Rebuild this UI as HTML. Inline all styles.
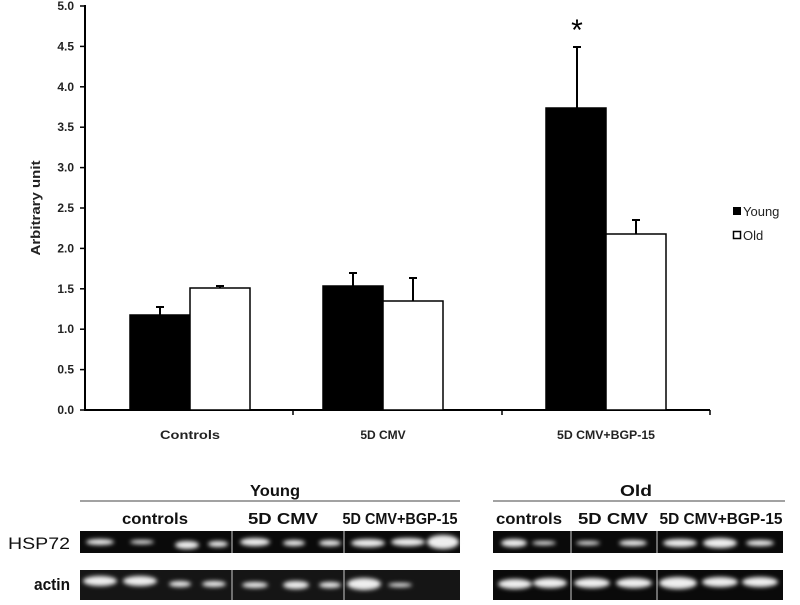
<!DOCTYPE html>
<html><head><style>
body{margin:0;background:#fff;width:800px;height:600px;overflow:hidden;font-family:"Liberation Sans",Arial,sans-serif}
</style></head><body>
<svg width="800" height="600" xmlns="http://www.w3.org/2000/svg" font-family="Liberation Sans, Arial, sans-serif">
<defs>
<filter id="b" x="-20%" y="-50%" width="140%" height="200%"><feGaussianBlur stdDeviation="2"/></filter>
</defs>
<g stroke="#000" stroke-width="2" fill="none">
<line x1="85" y1="5" x2="85" y2="411"/>
<line x1="84" y1="410" x2="710" y2="410"/>
</g>
<g stroke="#000" stroke-width="1.5">
<line x1="80" y1="6" x2="85" y2="6"/><line x1="80" y1="46.4" x2="85" y2="46.4"/><line x1="80" y1="86.8" x2="85" y2="86.8"/><line x1="80" y1="127.2" x2="85" y2="127.2"/><line x1="80" y1="167.6" x2="85" y2="167.6"/><line x1="80" y1="208" x2="85" y2="208"/><line x1="80" y1="248.4" x2="85" y2="248.4"/><line x1="80" y1="288.8" x2="85" y2="288.8"/><line x1="80" y1="329.2" x2="85" y2="329.2"/><line x1="80" y1="369.6" x2="85" y2="369.6"/><line x1="80" y1="410" x2="85" y2="410"/>
<line x1="293" y1="410" x2="293" y2="415"/><line x1="502" y1="410" x2="502" y2="415"/><line x1="710" y1="410" x2="710" y2="415"/>
</g>
<g font-size="12" font-weight="bold" fill="#222" text-anchor="end">
<text x="74" y="10">5.0</text><text x="74" y="50.4">4.5</text><text x="74" y="90.8">4.0</text><text x="74" y="131.2">3.5</text><text x="74" y="171.6">3.0</text><text x="74" y="212">2.5</text><text x="74" y="252.4">2.0</text><text x="74" y="292.8">1.5</text><text x="74" y="333.2">1.0</text><text x="74" y="373.6">0.5</text><text x="74" y="414">0.0</text>
</g>
<text transform="translate(40,208) rotate(-90)" font-size="13" font-weight="bold" text-anchor="middle" fill="#222" textLength="95" lengthAdjust="spacingAndGlyphs">Arbitrary  unit</text>
<g stroke="#000" stroke-width="2">
<line x1="160" y1="315" x2="160" y2="307"/><line x1="156" y1="307" x2="164" y2="307"/>
<line x1="220" y1="288" x2="220" y2="286"/><line x1="216" y1="286" x2="224" y2="286"/>
<line x1="353" y1="286" x2="353" y2="273"/><line x1="349" y1="273" x2="357" y2="273"/>
<line x1="413" y1="301" x2="413" y2="278"/><line x1="409" y1="278" x2="417" y2="278"/>
<line x1="577" y1="108" x2="577" y2="47"/><line x1="573" y1="47" x2="581" y2="47"/>
<line x1="636" y1="234" x2="636" y2="220"/><line x1="632" y1="220" x2="640" y2="220"/>
</g>
<g stroke="#000" stroke-width="1.5">
<rect x="130" y="315" width="60" height="95" fill="#000"/>
<rect x="190" y="288" width="60" height="122" fill="#fff"/>
<rect x="323" y="286" width="60" height="124" fill="#000"/>
<rect x="383" y="301" width="60" height="109" fill="#fff"/>
<rect x="546" y="108" width="60" height="302" fill="#000"/>
<rect x="606" y="234" width="60" height="176" fill="#fff"/>
</g>
<text x="577" y="40" font-size="30" text-anchor="middle" fill="#000">*</text>
<g font-size="12" font-weight="bold" fill="#222" text-anchor="middle">
<text x="190" y="439" textLength="60" lengthAdjust="spacingAndGlyphs">Controls</text><text x="383" y="439">5D CMV</text><text x="606" y="439" textLength="98" lengthAdjust="spacingAndGlyphs">5D CMV+BGP-15</text>
</g>
<rect x="733" y="207" width="8" height="8" fill="#000"/>
<text x="743" y="216" font-size="13" fill="#222">Young</text>
<rect x="733.5" y="231.5" width="7" height="7" fill="#fff" stroke="#000" stroke-width="1.5"/>
<text x="743" y="240" font-size="13" fill="#222">Old</text>
<g font-size="16" font-weight="bold" fill="#111" text-anchor="middle" lengthAdjust="spacingAndGlyphs">
<text x="275" y="496" textLength="50" lengthAdjust="spacingAndGlyphs">Young</text><text x="636" y="496" textLength="32" lengthAdjust="spacingAndGlyphs">Old</text>
<text x="155" y="524" textLength="66" lengthAdjust="spacingAndGlyphs">controls</text><text x="283" y="524" textLength="70" lengthAdjust="spacingAndGlyphs">5D CMV</text><text x="400" y="524" textLength="115" lengthAdjust="spacingAndGlyphs">5D CMV+BGP-15</text>
<text x="529" y="524" textLength="66" lengthAdjust="spacingAndGlyphs">controls</text><text x="613" y="524" textLength="70" lengthAdjust="spacingAndGlyphs">5D CMV</text><text x="721" y="524" textLength="123" lengthAdjust="spacingAndGlyphs">5D CMV+BGP-15</text>
</g>
<text x="8" y="549" font-size="17" fill="#111" textLength="62" lengthAdjust="spacingAndGlyphs">HSP72</text>
<text x="34" y="590" font-size="17" font-weight="bold" fill="#111" textLength="36" lengthAdjust="spacingAndGlyphs">actin</text>
<line x1="80" y1="501" x2="460" y2="501" stroke="#444" stroke-width="1"/>
<line x1="493" y1="501" x2="785" y2="501" stroke="#444" stroke-width="1"/>
<rect x="80" y="531" width="380" height="22" fill="#0a0a0a"/>
<rect x="493" y="531" width="290" height="22" fill="#0a0a0a"/>
<rect x="80" y="570" width="380" height="30" fill="#151515"/>
<rect x="493" y="570" width="290" height="30" fill="#0a0a0a"/>
<g fill="#eee" filter="url(#b)">
<ellipse cx="100" cy="542" rx="14" ry="3"/><ellipse cx="142" cy="542" rx="12" ry="2"/><ellipse cx="187" cy="545" rx="12" ry="4"/><ellipse cx="218" cy="544" rx="10" ry="3"/>
<ellipse cx="255" cy="542" rx="15" ry="4"/><ellipse cx="294" cy="543" rx="11" ry="3"/><ellipse cx="330" cy="543" rx="11" ry="3"/>
<ellipse cx="368" cy="543" rx="17" ry="4"/><ellipse cx="408" cy="542" rx="17" ry="4"/><ellipse cx="443" cy="542" rx="16" ry="7"/>
<ellipse cx="514" cy="543" rx="13" ry="4"/><ellipse cx="544" cy="543" rx="12" ry="2"/><ellipse cx="588" cy="543" rx="12" ry="2"/><ellipse cx="633" cy="543" rx="14" ry="3"/>
<ellipse cx="680" cy="543" rx="17" ry="4"/><ellipse cx="720" cy="543" rx="17" ry="5"/><ellipse cx="760" cy="543" rx="14" ry="3"/>
<ellipse cx="100" cy="581" rx="17" ry="5"/><ellipse cx="140" cy="581" rx="17" ry="5"/><ellipse cx="180" cy="584" rx="11" ry="3"/><ellipse cx="214" cy="584" rx="12" ry="3"/>
<ellipse cx="255" cy="585" rx="13" ry="3"/><ellipse cx="296" cy="585" rx="13" ry="4"/><ellipse cx="330" cy="585" rx="11" ry="3"/>
<ellipse cx="364" cy="584" rx="17" ry="6"/><ellipse cx="400" cy="585" rx="12" ry="2"/>
<ellipse cx="515" cy="584" rx="17" ry="5"/><ellipse cx="550" cy="583" rx="17" ry="5"/><ellipse cx="592" cy="583" rx="18" ry="5"/><ellipse cx="634" cy="583" rx="18" ry="5"/>
<ellipse cx="678" cy="583" rx="19" ry="6"/><ellipse cx="720" cy="582" rx="18" ry="5"/><ellipse cx="760" cy="582" rx="18" ry="5"/>
</g>
<g stroke="#ccc" stroke-width="1">
<line x1="232" y1="531" x2="232" y2="553"/><line x1="344" y1="531" x2="344" y2="553"/>
<line x1="232" y1="570" x2="232" y2="600"/><line x1="344" y1="570" x2="344" y2="600"/>
<line x1="571" y1="531" x2="571" y2="553"/><line x1="657" y1="531" x2="657" y2="553"/>
<line x1="571" y1="570" x2="571" y2="600"/><line x1="657" y1="570" x2="657" y2="600"/>
</g>
</svg>
</body></html>
